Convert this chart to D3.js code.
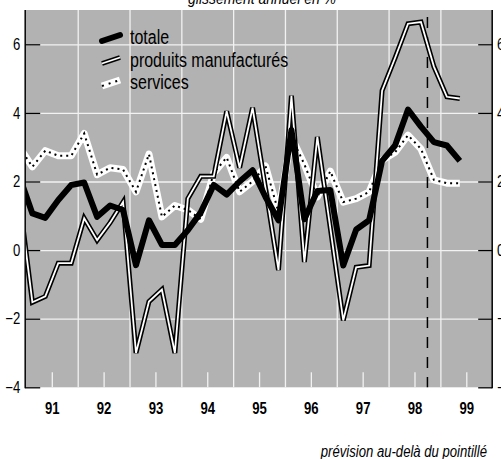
<!DOCTYPE html>
<html>
<head>
<meta charset="utf-8">
<script src="https://cdn.jsdelivr.net/npm/d3@7"></script>
<style>
  body { margin: 0; background: #fff; }
  text { font-family: "Liberation Sans", Arial, sans-serif; fill: #000; }
</style>
</head>
<body>
<div id="chart"></div>
<script>
// quarters, 1990T4 -> 1999T2 (first one is cut by the left axis)
const quarters = ["1990T4",
  "1991T1","1991T2","1991T3","1991T4","1992T1","1992T2","1992T3","1992T4",
  "1993T1","1993T2","1993T3","1993T4","1994T1","1994T2","1994T3","1994T4",
  "1995T1","1995T2","1995T3","1995T4","1996T1","1996T2","1996T3","1996T4",
  "1997T1","1997T2","1997T3","1997T4","1998T1","1998T2","1998T3","1998T4",
  "1999T1","1999T2"];

const totale = [2.15, 1.07, 0.94, 1.46, 1.9, 1.97, 0.97, 1.3, 1.17, -0.44, 0.87, 0.15, 0.15,
  0.58, 1.1, 1.9, 1.62, 2.0, 2.33, 1.55, 0.87, 3.5, 0.9, 1.72, 1.75, -0.45, 0.6, 0.87,
  2.6, 3.05, 4.1, 3.6, 3.15, 3.05, 2.6];
const manufactures = [1.5, -1.52, -1.35, -0.38, -0.38, 0.93, 0.29, 0.8, 1.4, -3.0, -1.5, -1.15, -3.0,
  1.5, 2.15, 2.15, 4.05, 2.4, 4.15, 1.8, -0.58, 4.5, -0.35, 3.3, 0.65, -2.05, -0.5, -0.45,
  4.65, 5.6, 6.6, 6.65, 5.35, 4.47, 4.42];
const services = [3.0, 2.43, 2.9, 2.75, 2.75, 3.4, 2.2, 2.4, 2.35, 1.7, 2.8, 0.97, 1.3,
  1.17, 0.9, 2.25, 2.7, 1.7, 2.0, 2.45, 1.1, 3.3, 2.5, 1.55, 2.3, 1.4, 1.5, 1.7,
  2.62, 2.85, 3.35, 2.95, 2.05, 1.95, 1.95];

const yTicks = [-4, -2, 0, 2, 4, 6];
const yearLabels = ["91","92","93","94","95","96","97","98","99"];
const forecastStart = 1998.75; // dashed line

const W = 501, H = 459;
const pLeft = 25.9, pRight = 492.2, pTop = 10, pBottom = 387.3;
const NARROW = 0.82; // condensed look of the original type

// quarter -> decimal year (middle of the quarter)
const qx = q => +q.slice(0, 4) + (+q.slice(5) - 0.5) / 4;

const x = d3.scaleLinear().domain([1991, 2000]).range([pLeft, pRight]);
const y = d3.scaleLinear().domain([-4, 7]).range([pBottom, pTop]);

const svg = d3.select("#chart").append("svg")
    .attr("width", W)
    .attr("height", H);

// text drawn at (tx, ty), squeezed horizontally
function label(tx, ty, str, size, anchor) {
  return svg.append("text")
      .attr("transform", `translate(${tx},${ty}) scale(${NARROW},1)`)
      .attr("text-anchor", anchor || "start")
      .attr("font-size", size)
      .text(str);
}

svg.append("defs").append("clipPath").attr("id", "plot")
  .append("rect")
    .attr("x", pLeft).attr("y", pTop)
    .attr("width", pRight - pLeft).attr("height", pBottom - pTop);

// background
svg.append("rect")
    .attr("x", pLeft).attr("y", pTop)
    .attr("width", pRight - pLeft).attr("height", pBottom - pTop)
    .attr("fill", "#b2b2b2");

// horizontal grid
svg.append("g")
    .attr("transform", `translate(${pLeft},0)`)
    .call(d3.axisLeft(y).tickValues([-2, 0, 2, 4, 6]).tickSize(-(pRight - pLeft)).tickFormat(""))
    .call(g => g.select(".domain").remove())
    .call(g => g.selectAll("line").attr("stroke", "#f2f2f2").attr("stroke-width", 1.3));

// vertical grid at year boundaries
svg.append("g")
    .attr("transform", `translate(0,${pBottom})`)
    .call(d3.axisBottom(x).tickValues(d3.range(1992, 2000)).tickSize(-(pBottom - pTop)).tickFormat(""))
    .call(g => g.select(".domain").remove())
    .call(g => g.selectAll("line").attr("stroke", "#f2f2f2").attr("stroke-width", 1.3));

// short half-year ticks
svg.append("g")
    .attr("transform", `translate(0,${pBottom})`)
    .call(d3.axisBottom(x).tickValues(d3.range(1991.5, 2000, 1)).tickSize(-15).tickFormat(""))
    .call(g => g.select(".domain").remove())
    .call(g => g.selectAll("line").attr("stroke", "#f2f2f2").attr("stroke-width", 1.3));

// year labels
svg.append("g")
    .attr("transform", `translate(0,${pBottom})`)
    .call(d3.axisBottom(x).tickValues(d3.range(1991.5, 2000, 1)).tickSize(0).tickPadding(15)
      .tickFormat((d, i) => yearLabels[i]))
    .call(g => g.select(".domain").remove())
    .call(g => g.selectAll("text").attr("font-size", 16).attr("font-weight", "bold")
      .attr("transform", `scale(${NARROW},1)`));

// left axis
svg.append("g")
    .attr("transform", `translate(${pLeft - 0.7},0)`)
    .call(d3.axisLeft(y).tickValues(yTicks).tickSizeInner(-15).tickSizeOuter(0).tickPadding(6))
    .call(g => g.select(".domain").attr("d", `M0,${pTop}V${pBottom + 1}`).attr("stroke-width", 1.5))
    .call(g => g.selectAll("line").attr("stroke-width", 1.3))
    .call(g => g.selectAll("text").attr("font-size", 16).attr("transform", `scale(${NARROW},1)`));

// right axis (labels run past the picture edge, as in the original)
svg.append("g")
    .attr("transform", `translate(${pRight},0)`)
    .call(d3.axisRight(y).tickValues(yTicks).tickSizeInner(-14).tickSizeOuter(0).tickPadding(6))
    .call(g => g.select(".domain").attr("d", `M0,${pTop}V${pBottom + 1}`).attr("stroke-width", 1.5))
    .call(g => g.selectAll("line").attr("stroke-width", 1.3))
    .call(g => g.selectAll("text").attr("font-size", 16).attr("transform", `scale(${NARROW},1)`));

// forecast dashed line
svg.append("line")
    .attr("x1", x(forecastStart)).attr("x2", x(forecastStart))
    .attr("y1", pTop + 7).attr("y2", pBottom)
    .attr("stroke", "#000").attr("stroke-width", 1.5)
    .attr("stroke-dasharray", "11,9");

const line = d3.line()
    .x((d, i) => x(qx(quarters[i])))
    .y(d => y(d));

const plot = svg.append("g").attr("clip-path", "url(#plot)");

// services: white band with black dots
plot.append("path").datum(services)
    .attr("d", line).attr("fill", "none")
    .attr("stroke", "#fff").attr("stroke-width", 7).attr("stroke-linejoin", "round");
plot.append("path").datum(services)
    .attr("d", line).attr("fill", "none")
    .attr("stroke", "#000").attr("stroke-width", 2).attr("stroke-dasharray", "2,4");

// produits manufacturés: black outline, white core
plot.append("path").datum(manufactures)
    .attr("d", line).attr("fill", "none")
    .attr("stroke", "#000").attr("stroke-width", 5).attr("stroke-linejoin", "miter");
plot.append("path").datum(manufactures)
    .attr("d", line).attr("fill", "none")
    .attr("stroke", "#fff").attr("stroke-width", 1.8).attr("stroke-linejoin", "miter");

// totale
plot.append("path").datum(totale)
    .attr("d", line).attr("fill", "none")
    .attr("stroke", "#000").attr("stroke-width", 6).attr("stroke-linejoin", "round");

// legend
const legend = [
  {name: "totale", type: "totale"},
  {name: "produits manufacturés", type: "manuf"},
  {name: "services", type: "services"}
];
legend.forEach((d, i) => {
  const ly = 38 + i * 22.5;
  const g = svg.append("g").attr("transform", `translate(102,${ly})`);
  const seg = s => g.append("line").attr("x1", 0).attr("y1", 3).attr("x2", 18).attr("y2", -3)
      .attr("stroke-linecap", "butt").call(s);
  if (d.type === "totale") {
    seg(l => l.attr("stroke", "#000").attr("stroke-width", 6).attr("stroke-linecap", "round"));
  } else if (d.type === "manuf") {
    seg(l => l.attr("stroke", "#000").attr("stroke-width", 5));
    seg(l => l.attr("stroke", "#fff").attr("stroke-width", 1.8));
  } else {
    seg(l => l.attr("stroke", "#fff").attr("stroke-width", 7));
    seg(l => l.attr("stroke", "#000").attr("stroke-width", 2).attr("stroke-dasharray", "2,5"));
  }
  label(130, ly + 6, d.name, 19.5);
});

// title (cut at the top) and footnote
label(262, 4, "glissement annuel en %", 17, "middle").attr("font-style", "italic");
label(487, 457, "prévision au-delà du pointillé", 16, "end").attr("font-style", "italic");
</script>
</body>
</html>
